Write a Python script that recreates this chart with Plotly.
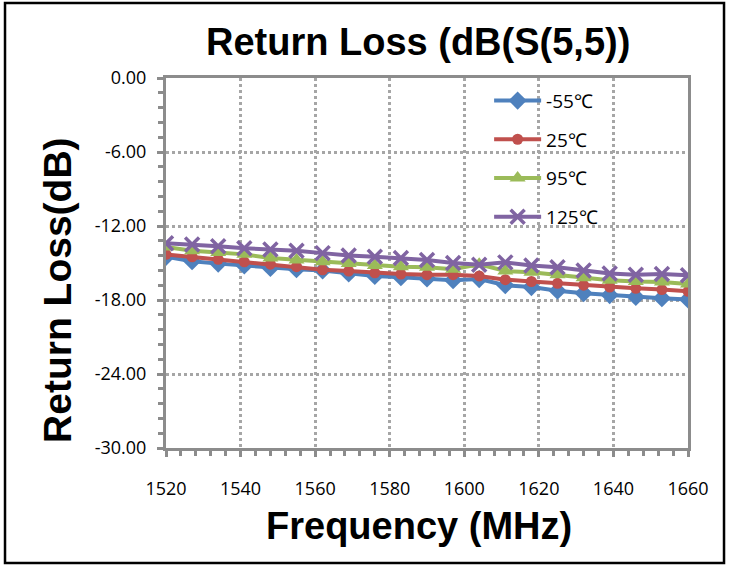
import plotly.graph_objects as go

freq = [1520, 1527, 1534, 1541, 1548, 1555, 1562, 1569, 1576, 1583, 1590,
        1597, 1604, 1611, 1618, 1625, 1632, 1639, 1646, 1653, 1660]

rl_m55 = [-14.50, -14.85, -15.05, -15.20, -15.40, -15.50, -15.60, -15.85, -16.05, -16.15, -16.25,
          -16.40, -16.30, -16.80, -16.95, -17.25, -17.45, -17.60, -17.75, -17.85, -17.95]
rl_25 = [-14.30, -14.50, -14.70, -14.90, -15.10, -15.30, -15.55, -15.65, -15.80, -15.90, -15.95,
         -15.95, -16.05, -16.35, -16.50, -16.65, -16.80, -16.95, -17.05, -17.15, -17.30]
rl_95 = [-13.70, -14.00, -14.15, -14.30, -14.60, -14.75, -14.90, -15.05, -15.20, -15.30, -15.35,
         -15.50, -15.10, -15.65, -15.75, -15.95, -16.20, -16.40, -16.50, -16.55, -16.70]
rl_125 = [-13.40, -13.50, -13.65, -13.80, -13.90, -14.00, -14.20, -14.40, -14.50, -14.60, -14.75,
          -15.00, -15.15, -14.95, -15.20, -15.35, -15.60, -15.85, -15.95, -15.90, -16.00]

series_names = ["-55℃", "25℃", "95℃", "125℃"]
series_values = [rl_m55, rl_25, rl_95, rl_125]
colors = ["#4F81BD", "#C0504D", "#9BBB59", "#8064A2"]
symbols = ["diamond", "circle", "triangle-up", "x-thin"]
sizes = [14, 11, 14, 14]

y_ticks = [0, -6, -12, -18, -24, -30]
y_ticktext = ["0.00", "-6.00", "-12.00", "-18.00", "-24.00", "-30.00"]
x_ticks = [1520, 1540, 1560, 1580, 1600, 1620, 1640, 1660]

fig = go.Figure()
for i, (name, vals) in enumerate(zip(series_names, series_values)):
    marker = dict(symbol=symbols[i], size=sizes[i], color=colors[i])
    if symbols[i] == "x-thin":
        marker["line"] = dict(color=colors[i], width=3.5)
    else:
        marker["line"] = dict(width=0)
    fig.add_trace(go.Scatter(
        x=freq, y=vals, mode="lines+markers", name=name,
        legendgroup=name,
        line=dict(color=colors[i], width=4),
        marker=marker,
    ))

grid_col = "#A6A6A6"
axis_col = "#8C8C8C"
tick_font = dict(family="Open Sans", size=18, color="black")

fig.update_layout(
    width=731, height=567,
    margin=dict(l=166, r=43, t=78, b=119),
    paper_bgcolor="white", plot_bgcolor="white",
    showlegend=True,
    legend=dict(x=0.619, y=0.99, xanchor="left", yanchor="top",
                bgcolor="rgba(0,0,0,0)", font=dict(family="Open Sans", size=19, color="black"),
                tracegroupgap=11, itemwidth=47),
    xaxis=dict(range=[1520, 1660], tickvals=x_ticks, ticks="outside", ticklen=6,
               tickwidth=2.5, tickcolor=axis_col, showline=True, linewidth=3,
               linecolor=axis_col, mirror=True, showgrid=True, gridcolor=grid_col,
               gridwidth=2.5, griddash="dot", zeroline=False, tickfont=tick_font,
               ticklabelstandoff=16,
               minor=dict(dtick=4, ticks="outside", ticklen=5, tickwidth=2.5,
                          tickcolor=axis_col, showgrid=False)),
    yaxis=dict(range=[-30, 0], tickvals=y_ticks, ticktext=y_ticktext, ticks="outside",
               ticklen=6, tickwidth=2.5, tickcolor=axis_col, showline=True, linewidth=3,
               linecolor=axis_col, mirror=True, showgrid=True, gridcolor=grid_col,
               gridwidth=2.5, griddash="dot", zeroline=False, tickfont=tick_font,
               ticklabelstandoff=7,
               minor=dict(dtick=1.2, ticks="outside", ticklen=5, tickwidth=2.5,
                          tickcolor=axis_col, showgrid=False)),
    annotations=[
        dict(text="<b>Return Loss (dB(S(5,5))</b>", xref="paper", yref="paper",
             x=0.483, y=1.097, xanchor="center", yanchor="middle", showarrow=False,
             font=dict(family="Liberation Sans", size=38, color="black")),
        dict(text="<b>Return Loss(dB)</b>", xref="paper", yref="paper",
             x=-0.209, y=0.427, xanchor="center", yanchor="middle", showarrow=False,
             textangle=-90, font=dict(family="Liberation Sans", size=39, color="black")),
        dict(text="<b>Frequency (MHz)</b>", xref="paper", yref="paper",
             x=0.485, y=-0.21, xanchor="center", yanchor="middle", showarrow=False,
             font=dict(family="Liberation Sans", size=38, color="black")),
    ],
    shapes=[
        dict(type="rect", xref="paper", yref="paper", x0=-0.3084, x1=1.069,
             y0=-0.3108, y1=1.2027, line=dict(color="black", width=2.5)),
    ],
)

fig.write_html("out.html", config={"displayModeBar": False},
               post_script="document.body.style.margin='0px';")
